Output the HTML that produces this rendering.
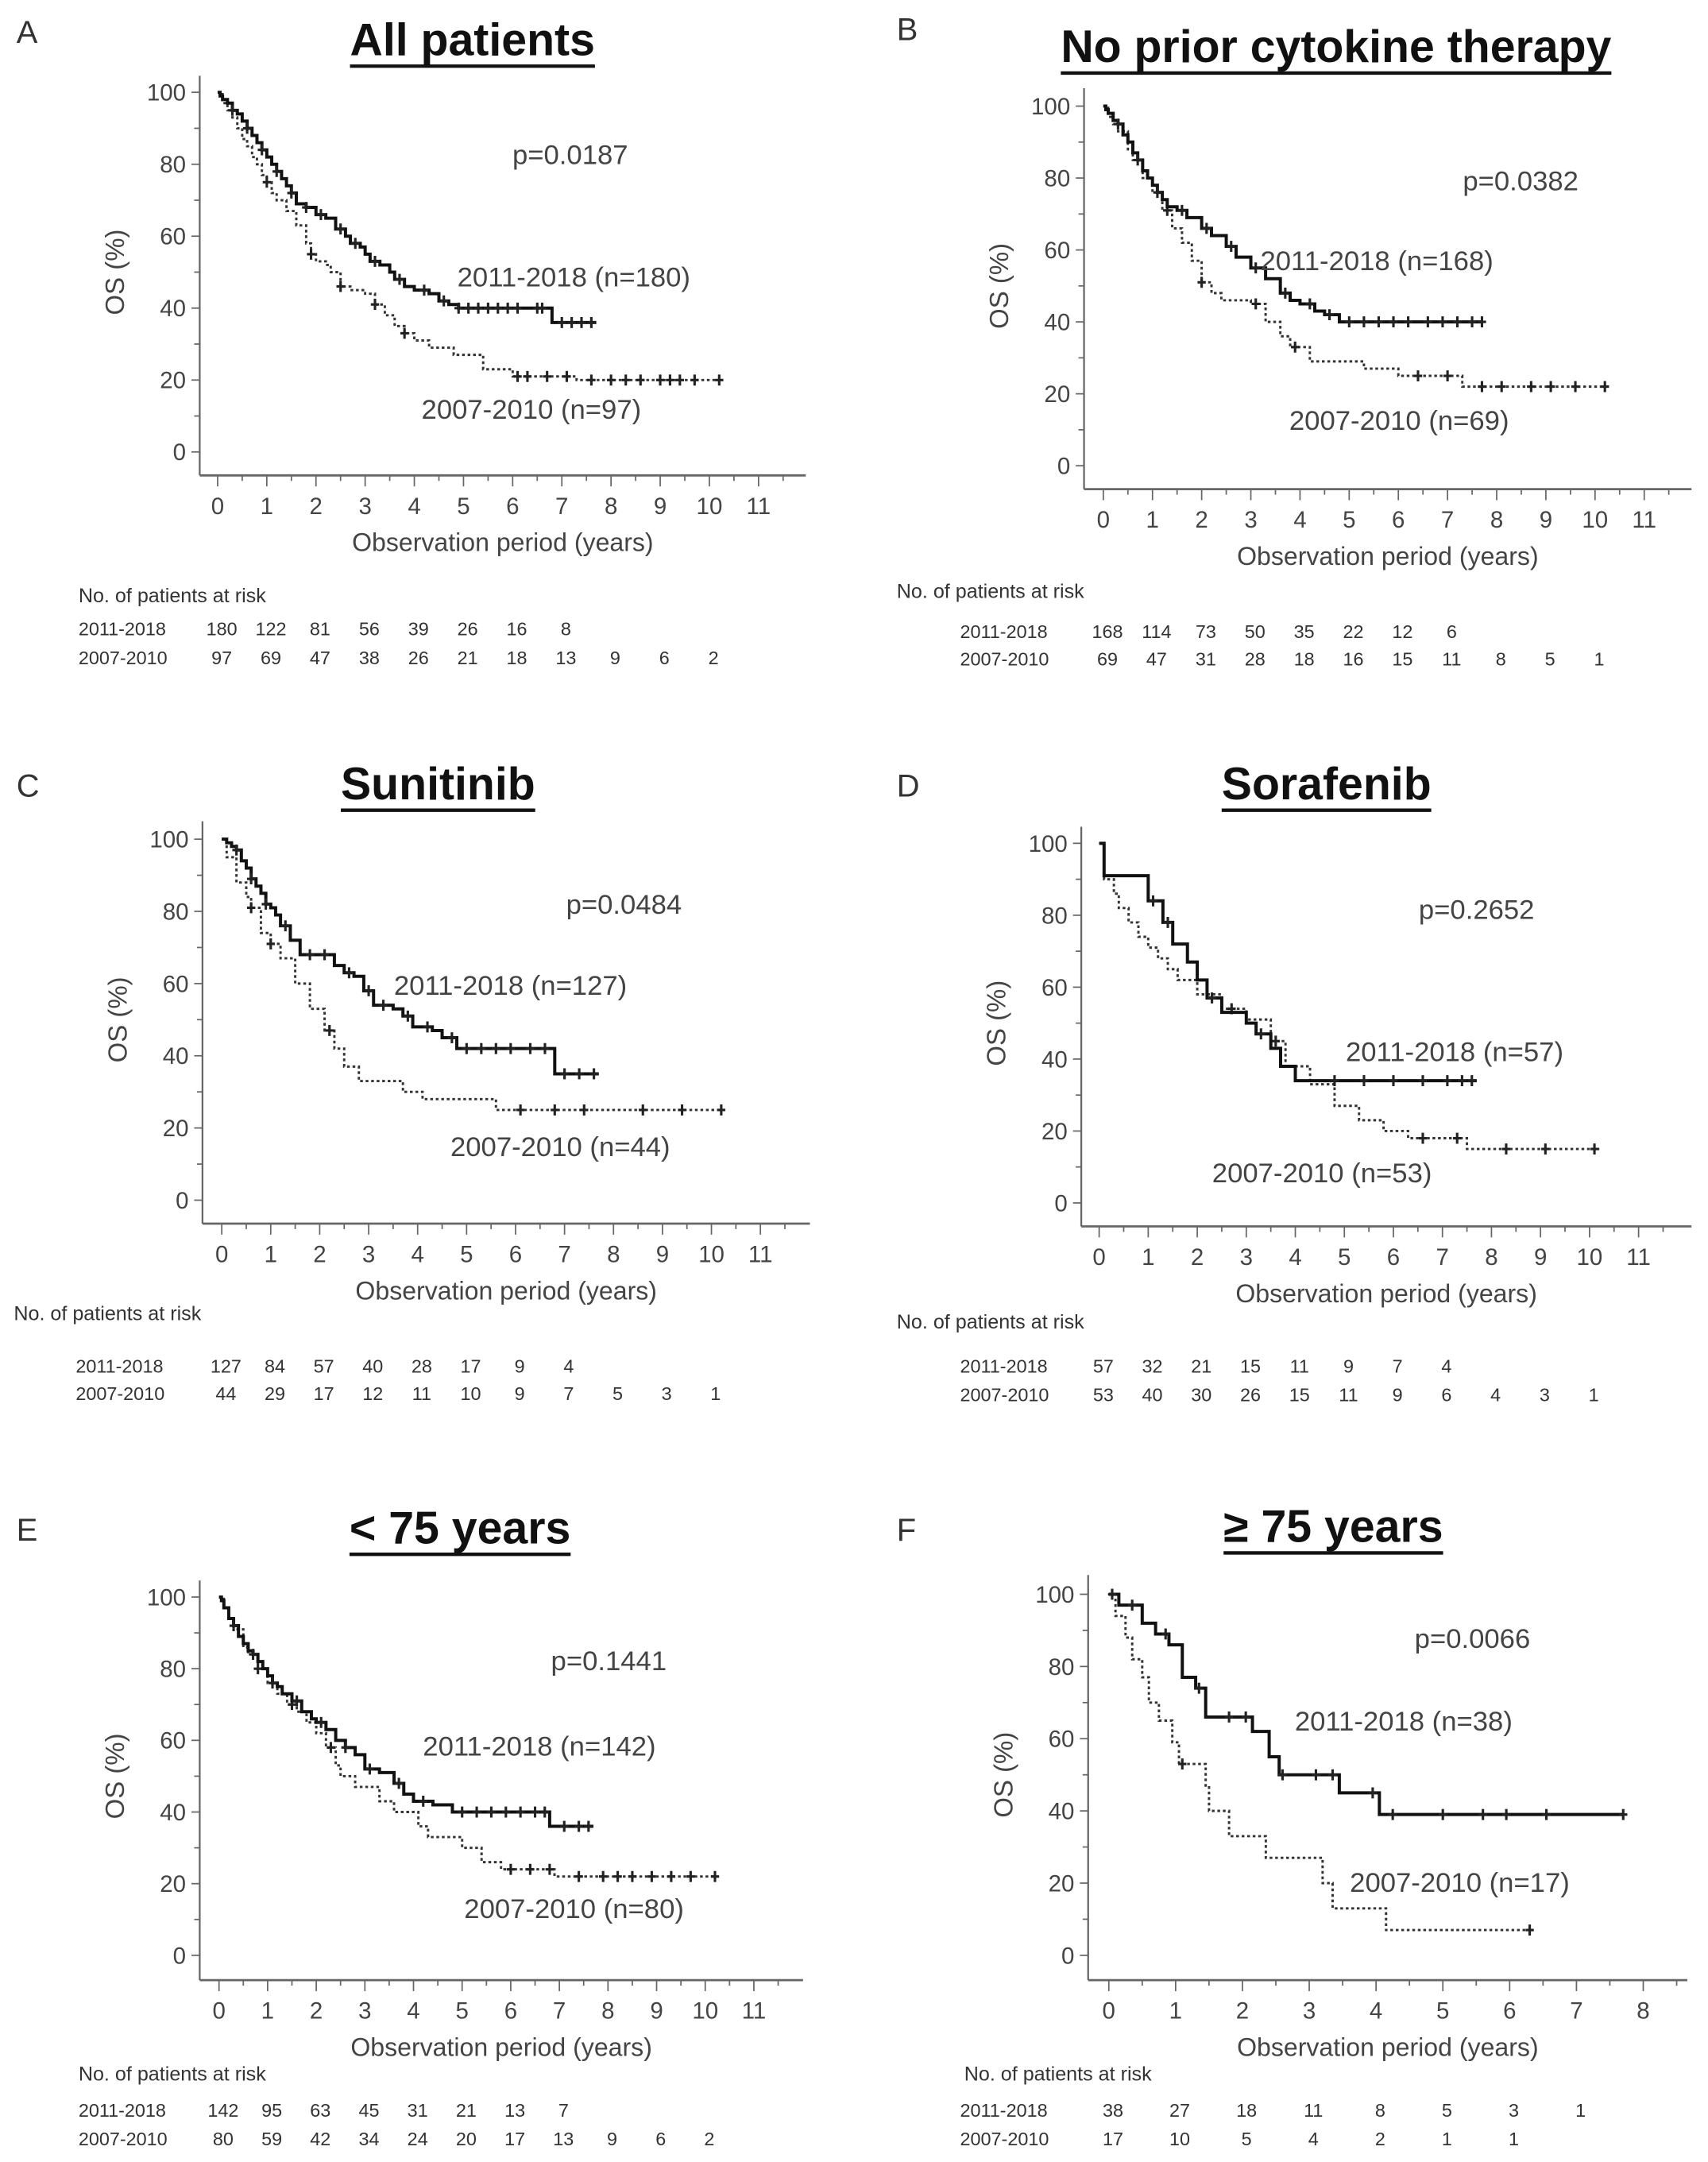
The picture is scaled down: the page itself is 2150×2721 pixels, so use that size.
<!DOCTYPE html>
<html><head><meta charset="utf-8"><style>
html,body{margin:0;padding:0;background:#fff}
svg{display:block}
text{font-family:"Liberation Sans",Arial,sans-serif}
</style></head><body>
<svg id="fig" xmlns="http://www.w3.org/2000/svg" width="2150" height="2721" viewBox="0 0 1240 1569" preserveAspectRatio="none"></svg>
<script>
// ===== Data: Kaplan-Meier step points (years, OS %) =====
const A_new_t=[0.05,0.1,0.2,0.3,0.4,0.5,0.6,0.7,0.8,0.9,1.0,1.1,1.2,1.3,1.4,1.5,1.6,1.8,2.0,2.2,2.4,2.6,2.7,2.9,3.0,3.1,3.3,3.5,3.6,3.8,4.0,4.3,4.5,4.7,4.9,6.8];
const A_new_s=[99,98,97,95,94,92,90,88,86,84,82,80,78,76,74,72,69,68,66,65,62,60,58,57,55,53,52,50,48,46,45,44,42,41,40,36];
const A_new_end=7.7;
const A_new_cens=[0.3,0.6,0.9,1.2,1.5,1.8,2.1,2.5,2.8,3.2,3.7,4.2,4.6,4.9,5.1,5.3,5.5,5.7,5.9,6.1,6.5,6.6,7.0,7.2,7.4,7.6];
const A_old_t=[0.1,0.2,0.3,0.4,0.5,0.6,0.7,0.8,0.9,1.0,1.1,1.2,1.4,1.6,1.8,1.9,2.0,2.2,2.3,2.5,2.7,3.0,3.2,3.4,3.6,3.8,4.0,4.3,4.8,5.4,6.0,7.3];
const A_old_s=[97,95,93,90,87,85,82,80,77,75,72,70,67,63,58,55,53,52,50,46,45,44,41,38,35,33,31,29,27,23,21,20];
const A_old_end=10.2;
const A_old_cens=[1.0,1.9,2.5,3.2,3.8,6.1,6.3,6.7,7.1,7.6,8.0,8.3,8.6,9.0,9.2,9.4,9.7,10.2];

const B_new_t=[0.05,0.1,0.2,0.3,0.4,0.5,0.6,0.7,0.8,0.9,1.0,1.1,1.2,1.3,1.5,1.7,2.0,2.2,2.5,2.7,3.0,3.3,3.6,3.8,4.0,4.3,4.5,4.8];
const B_new_s=[99,98,96,95,92,90,87,85,82,80,78,76,74,72,71,69,66,64,61,58,55,52,48,46,45,43,42,40];
const B_new_end=7.7;
const B_new_cens=[0.3,0.7,1.1,1.6,2.1,2.6,3.1,3.7,4.2,4.6,5.0,5.3,5.6,5.9,6.2,6.6,6.9,7.2,7.5,7.7];
const B_old_t=[0.1,0.2,0.3,0.5,0.6,0.8,1.0,1.2,1.4,1.6,1.8,2.0,2.2,2.4,3.0,3.3,3.6,3.8,4.2,5.3,6.0,7.3];
const B_old_s=[97,95,93,88,85,80,76,71,66,62,57,51,48,46,45,40,36,33,29,27,25,22];
const B_old_end=10.2;
const B_old_cens=[1.3,2.0,3.1,3.9,6.4,7.0,7.7,8.1,8.7,9.1,9.6,10.2];

const C_new_t=[0.1,0.2,0.3,0.4,0.5,0.6,0.7,0.8,0.9,1.0,1.1,1.2,1.4,1.6,2.3,2.5,2.7,2.9,3.1,3.5,3.7,3.9,4.3,4.5,4.8,6.8];
const C_new_s=[99,98,97,94,92,89,87,85,82,81,79,76,72,68,65,63,62,58,54,53,51,48,47,45,42,35];
const C_new_end=7.7;
const C_new_cens=[0.3,0.6,0.9,1.3,1.8,2.1,2.6,3.0,3.3,3.8,4.2,4.7,5.0,5.3,5.6,5.9,6.3,6.6,7.0,7.3,7.6];
const C_old_t=[0.1,0.3,0.5,0.6,0.8,1.0,1.2,1.5,1.8,2.1,2.3,2.5,2.8,3.7,4.1,5.6];
const C_old_s=[95,88,84,81,74,71,67,60,53,47,42,37,33,30,28,25];
const C_old_end=10.2;
const C_old_cens=[0.6,1.0,2.2,6.1,6.8,7.4,8.6,9.4,10.2];

const D_new_t=[0.1,1.0,1.3,1.5,1.8,2.0,2.2,2.5,3.0,3.2,3.5,3.7,4.0];
const D_new_s=[91,84,78,72,67,62,57,53,50,47,43,38,34];
const D_new_end=7.7;
const D_new_cens=[1.1,1.4,2.3,3.3,4.8,5.4,6.0,6.6,7.1,7.4,7.6];
const D_old_t=[0.1,0.3,0.4,0.6,0.8,1.0,1.2,1.4,1.6,2.0,2.5,3.0,3.5,3.8,4.3,4.8,5.3,5.8,6.3,7.5];
const D_old_s=[90,86,82,78,74,71,68,65,62,58,54,51,45,38,33,27,23,20,18,15];
const D_old_end=10.2;
const D_old_cens=[2.7,3.6,6.6,7.3,8.3,9.1,10.1];

const E_new_t=[0.05,0.1,0.2,0.3,0.4,0.5,0.6,0.7,0.8,0.9,1.0,1.1,1.2,1.3,1.5,1.7,1.9,2.0,2.2,2.4,2.6,2.8,3.0,3.3,3.6,3.8,4.0,4.4,4.8,6.8];
const E_new_s=[99,97,94,92,89,87,85,84,82,80,78,76,75,73,71,68,66,65,63,60,58,56,52,51,48,45,43,42,40,36];
const E_new_end=7.7;
const E_new_cens=[0.3,0.7,1.1,1.6,2.1,2.6,3.1,3.7,4.2,5.0,5.3,5.6,5.9,6.2,6.5,6.7,7.1,7.4,7.6];
const E_old_t=[0.1,0.2,0.3,0.5,0.6,0.8,1.0,1.2,1.4,1.6,1.8,2.0,2.2,2.4,2.5,2.8,3.3,3.6,4.1,4.3,5.0,5.4,5.8,6.9];
const E_old_s=[97,94,91,86,84,80,76,73,70,68,65,62,58,53,50,47,43,40,36,33,30,26,24,22];
const E_old_end=10.2;
const E_old_cens=[0.8,1.5,2.3,6.0,6.4,6.8,7.4,7.9,8.2,8.5,8.9,9.3,9.7,10.2];

const F_new_t=[0.15,0.5,0.7,0.9,1.1,1.3,1.45,2.15,2.4,2.55,3.45,4.05];
const F_new_s=[97,92,89,86,77,74,66,62,55,50,45,39];
const F_new_end=7.7;
const F_new_cens=[0.05,0.35,0.85,1.35,1.8,2.05,2.6,3.1,3.35,3.95,4.25,5.0,5.6,5.95,6.55,7.7];
const F_old_t=[0.1,0.25,0.35,0.5,0.6,0.75,0.95,1.05,1.45,1.5,1.8,2.35,3.2,3.35,4.15];
const F_old_s=[94,88,82,77,70,65,59,53,47,40,33,27,20,13,7];
const F_old_end=6.3;
const F_old_cens=[1.1,6.3];

// ===== Risk tables =====
const A_risk_new=[180,122,81,56,39,26,16,8];
const A_risk_old=[97,69,47,38,26,21,18,13,9,6,2];
const B_risk_new=[168,114,73,50,35,22,12,6];
const B_risk_old=[69,47,31,28,18,16,15,11,8,5,1];
const C_risk_new=[127,84,57,40,28,17,9,4];
const C_risk_old=[44,29,17,12,11,10,9,7,5,3,1];
const D_risk_new=[57,32,21,15,11,9,7,4];
const D_risk_old=[53,40,30,26,15,11,9,6,4,3,1];
const E_risk_new=[142,95,63,45,31,21,13,7];
const E_risk_old=[80,59,42,34,24,20,17,13,9,6,2];
const F_risk_new=[38,27,18,11,8,5,3,1];
const F_risk_old=[17,10,5,4,2,1,1];

const yTicks=[0,20,40,60,80,100];
const xTicks11=[0,1,2,3,4,5,6,7,8,9,10,11];
const xTicks8=[0,1,2,3,4,5,6,7,8];

const panels=[
 {id:'a',letter:'A',lx:12,ly:31,title:'All patients',tx:343,ty:40,ax:145,atop:55,axy:345,aright:585,x0:158,ppy:35.7,y100:67,y0:328,xt:xTicks11,
  p:'p=0.0187',px:372,py:119,nl:'2011-2018 (n=180)',nx:332,ny:208,ol:'2007-2010 (n=97)',ox:306,oy:304,
  rh:[57,437],rl:57,ry:[461,482],news:[A_new_t,A_new_s,A_new_end,A_new_cens],olds:[A_old_t,A_old_s,A_old_end,A_old_cens],rn:A_risk_new,ro:A_risk_old},
 {id:'b',letter:'B',lx:651,ly:29,title:'No prior cytokine therapy',tx:970,ty:45,ax:787,atop:64,axy:355,aright:1228,x0:801,ppy:35.7,y100:77,y0:338,xt:xTicks11,
  p:'p=0.0382',px:1062,py:138,nl:'2011-2018 (n=168)',nx:915,ny:196,ol:'2007-2010 (n=69)',ox:936,oy:312,
  rh:[651,434],rl:697,ry:[463,483],news:[B_new_t,B_new_s,B_new_end,B_new_cens],olds:[B_old_t,B_old_s,B_old_end,B_old_cens],rn:B_risk_new,ro:B_risk_old},
 {id:'c',letter:'C',lx:12,ly:578,title:'Sunitinib',tx:318,ty:580,ax:147,atop:596,axy:888,aright:588,x0:161,ppy:35.55,y100:609,y0:871,xt:xTicks11,
  p:'p=0.0484',px:411,py:663,nl:'2011-2018 (n=127)',nx:286,ny:722,ol:'2007-2010 (n=44)',ox:327,oy:839,
  rh:[10,958],rl:55,ry:[996,1016],news:[C_new_t,C_new_s,C_new_end,C_new_cens],olds:[C_old_t,C_old_s,C_old_end,C_old_cens],rn:C_risk_new,ro:C_risk_old},
 {id:'d',letter:'D',lx:651,ly:578,title:'Sorafenib',tx:963,ty:580,ax:785,atop:600,axy:890,aright:1228,x0:798,ppy:35.6,y100:612,y0:873,xt:xTicks11,
  p:'p=0.2652',px:1030,py:667,nl:'2011-2018 (n=57)',nx:977,ny:770,ol:'2007-2010 (n=53)',ox:880,oy:858,
  rh:[651,964],rl:697,ry:[996,1017],news:[D_new_t,D_new_s,D_new_end,D_new_cens],olds:[D_old_t,D_old_s,D_old_end,D_old_cens],rn:D_risk_new,ro:D_risk_old},
 {id:'e',letter:'E',lx:12,ly:1118,title:'< 75 years',tx:334,ty:1120,ax:145,atop:1147,axy:1437,aright:583,x0:159,ppy:35.3,y100:1159,y0:1419,xt:xTicks11,
  p:'p=0.1441',px:400,py:1212,nl:'2011-2018 (n=142)',nx:307,ny:1274,ol:'2007-2010 (n=80)',ox:337,oy:1392,
  rh:[57,1510],rl:57,ry:[1536,1557],news:[E_new_t,E_new_s,E_new_end,E_new_cens],olds:[E_old_t,E_old_s,E_old_end,E_old_cens],rn:E_risk_new,ro:E_risk_old},
 {id:'f',letter:'F',lx:651,ly:1118,title:'\u2265 75 years',tx:968,ty:1119,ax:790,atop:1143,axy:1437,aright:1225,x0:805,ppy:48.5,y100:1157,y0:1419,xt:xTicks8,
  p:'p=0.0066',px:1027,py:1196,nl:'2011-2018 (n=38)',nx:940,ny:1256,ol:'2007-2010 (n=17)',ox:980,oy:1373,
  rh:[700,1510],rl:697,ry:[1536,1557],news:[F_new_t,F_new_s,F_new_end,F_new_cens],olds:[F_old_t,F_old_s,F_old_end,F_old_cens],rn:F_risk_new,ro:F_risk_old}
];

const NS='http://www.w3.org/2000/svg';
const svg=document.getElementById('fig');
function mk(tag,attrs,parent,txt){const e=document.createElementNS(NS,tag);for(const k in attrs)e.setAttribute(k,attrs[k]);if(txt!==undefined)e.textContent=txt;parent.appendChild(e);return e;}

function survAt(t,ts,ss){let s=100;for(let i=0;i<ts.length;i++){if(ts[i]<=t)s=ss[i];}return s;}

panels.forEach(P=>{
  const xs=t=>P.x0+t*P.ppy;
  const ys=v=>P.y0-(v/100)*(P.y0-P.y100);
  const g=mk('g',{},svg);
  
  
  const L=mk('text',{x:P.lx,y:P.ly,'font-size':23,fill:'#333'},g,P.letter);
  
  
  const T=mk('text',{x:P.tx,y:P.ty,'font-size':33,'font-weight':'bold','text-anchor':'middle',fill:'#111'},g,P.title);
  
  
  const tw=T.getComputedTextLength();
  const U=mk('line',{x1:P.tx-tw/2,x2:P.tx+tw/2,y1:P.ty+8,y2:P.ty+8,stroke:'#111','stroke-width':2.5},g);
  
  
  const ya=mk('line',{x1:P.ax,x2:P.ax,y1:P.atop,y2:P.axy,stroke:'#666','stroke-width':1.3},g);
  
  
  const xa=mk('line',{x1:P.ax,x2:P.aright,y1:P.axy,y2:P.axy,stroke:'#666','stroke-width':1.6},g);
  
  
  for(let v=0;v<=100;v+=10){const maj=v%20===0;mk('line',{x1:P.ax-(maj?6:4),x2:P.ax,y1:ys(v),y2:ys(v),stroke:'#666','stroke-width':1},g);}
  yTicks.forEach(v=>{const t=mk('text',{x:P.ax-10,y:ys(v)+6,'font-size':17,'text-anchor':'end',fill:'#444'},g,String(v));
    
    });
  const xmax=P.xt[P.xt.length-1];
  for(let t=0;t<=xmax+0.5;t+=0.5){const maj=Math.abs(t-Math.round(t))<1e-6;const px=xs(t);if(px>P.aright)break;mk('line',{x1:px,x2:px,y1:P.axy,y2:P.axy+(maj?8:4),stroke:'#666','stroke-width':1},g);}
  P.xt.forEach(v=>{const t=mk('text',{x:xs(v),y:P.axy+28,'font-size':17,'text-anchor':'middle',fill:'#444'},g,String(v));
    
    });
  const xt=mk('text',{x:(P.ax+P.aright)/2,y:P.axy+55,'font-size':18.5,'text-anchor':'middle',fill:'#444'},g,'Observation period (years)');
  
  
  const cy=(ys(0)+ys(100))/2, cx=P.ax-55;
  const yt=mk('text',{x:cx,y:cy,'font-size':19,'text-anchor':'middle',fill:'#444',transform:`rotate(-90 ${cx} ${cy})`},g,'OS (%)');
  
  
  function drawSeries(S,dotted,name){
    const [ts,ss,end,cens]=S;
    let d=`M${xs(0)},${ys(100)}`;
    for(let i=0;i<ts.length;i++){d+=` H${xs(ts[i])} V${ys(ss[i])}`;}
    d+=` H${xs(end)}`;
    const p=mk('path',{d:d,fill:'none',stroke:dotted?'#333':'#111','stroke-width':dotted?1.7:2.3,'stroke-dasharray':dotted?'2,2':'none'},g);
    
    
    cens.forEach(c=>{const px=xs(c),py=ys(survAt(c,ts,ss));
      const m=mk('path',{d:`M${px},${py-4}V${py+4}M${px-3},${py}H${px+3}`,stroke:'#222','stroke-width':1.8,fill:'none'},g);
      
      });
  }
  drawSeries(P.olds,true,'2007-2010');
  drawSeries(P.news,false,'2011-2018');
  const pt=mk('text',{x:P.px,y:P.py,'font-size':20,fill:'#444'},g,P.p);
  
  
  const nl=mk('text',{x:P.nx,y:P.ny,'font-size':20,fill:'#444'},g,P.nl);
  
  
  const ol=mk('text',{x:P.ox,y:P.oy,'font-size':20,fill:'#444'},g,P.ol);
  
  
  const rh=mk('text',{x:P.rh[0],y:P.rh[1],'font-size':14.5,fill:'#333'},g,'No. of patients at risk');
  
  
  [[P.rn,'2011-2018'],[P.ro,'2007-2010']].forEach((row,ri)=>{
    const y=P.ry[ri];
    const lab=mk('text',{x:P.rl,y:y,'font-size':13.5,fill:'#333'},g,row[1]);
    
    
    row[0].forEach((v,i)=>{const t=mk('text',{x:xs(i)+3,y:y,'font-size':13.5,'text-anchor':'middle',fill:'#333'},g,String(v));
      
      });
  });
});
</script>
</body></html>
